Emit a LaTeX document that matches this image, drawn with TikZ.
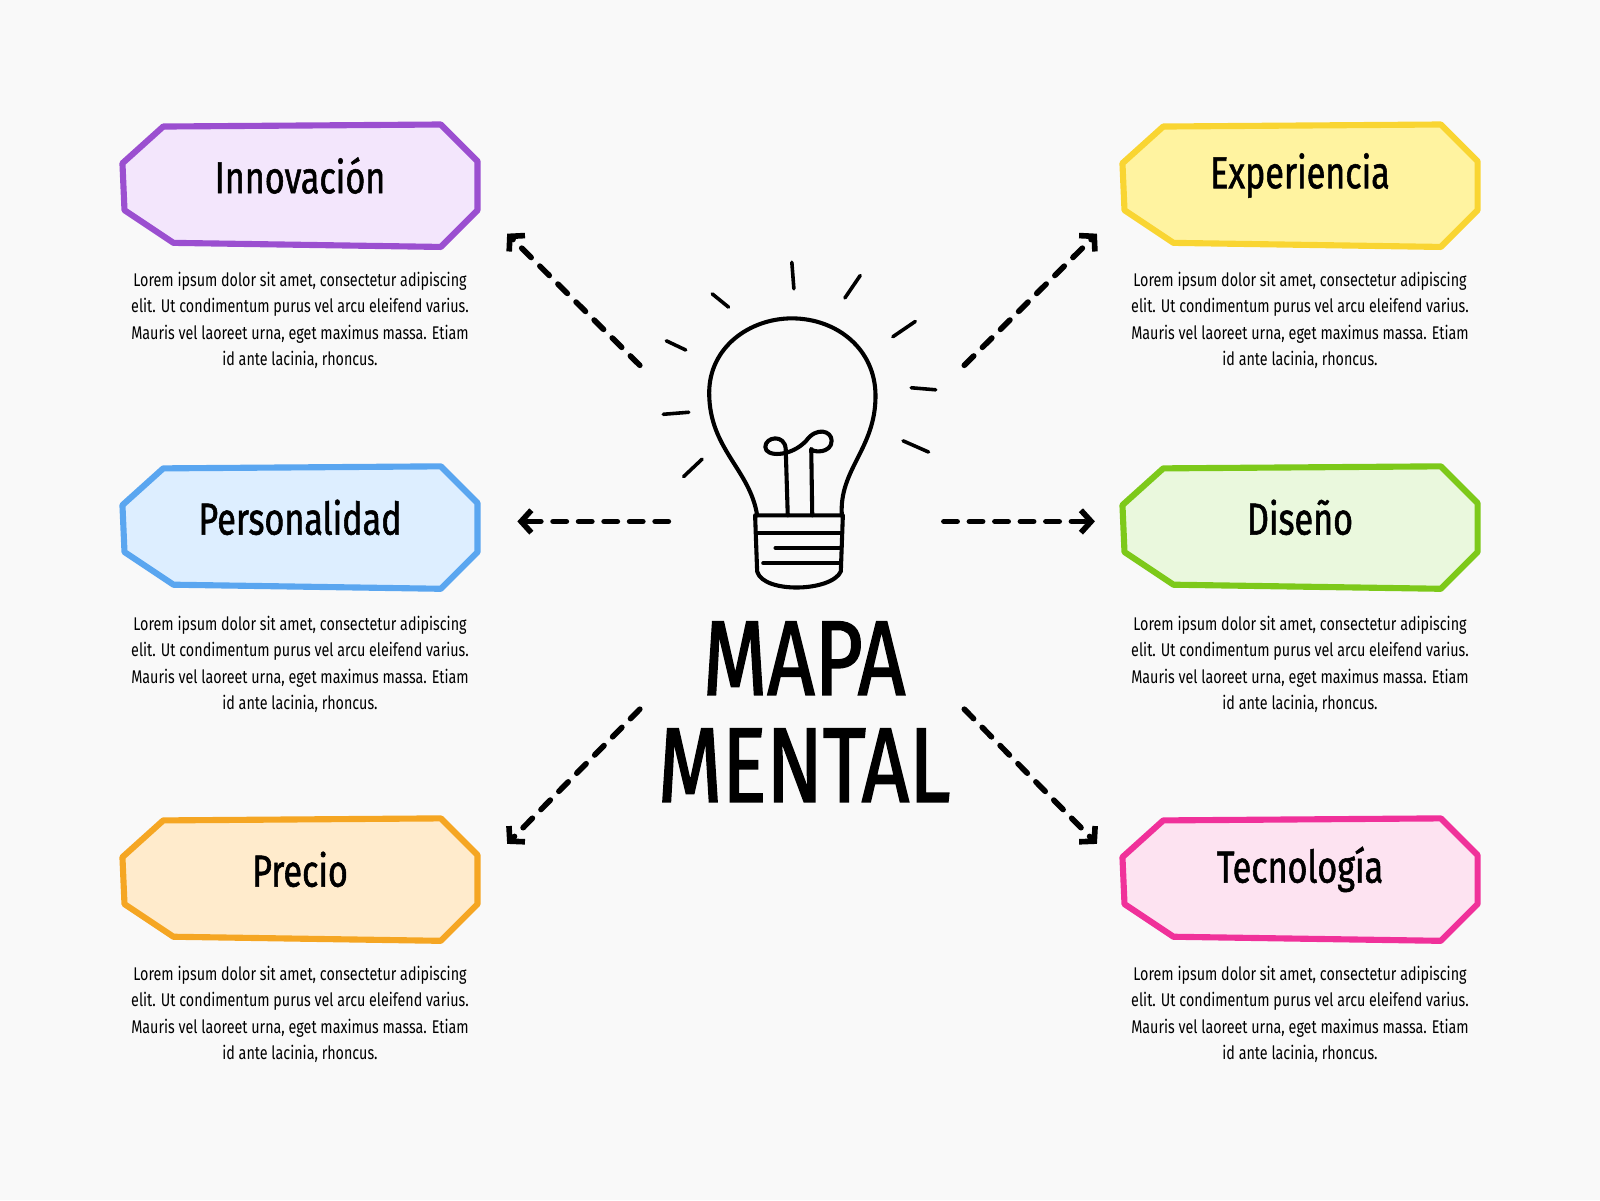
\documentclass[tikz,border=0pt]{standalone}
\usepackage{fontspec}
\setmainfont{Fira Sans}[FakeStretch=0.82]
\usetikzlibrary{arrows.meta}
\definecolor{bg}{HTML}{F9F9F9}
\definecolor{d1}{HTML}{9B4FD0}\definecolor{f1}{HTML}{F3E6FC}
\definecolor{d2}{HTML}{5AA6F0}\definecolor{f2}{HTML}{DDEEFF}
\definecolor{d3}{HTML}{F5A623}\definecolor{f3}{HTML}{FFEBCC}
\definecolor{d4}{HTML}{F9D532}\definecolor{f4}{HTML}{FFF3A0}
\definecolor{d5}{HTML}{7DC91A}\definecolor{f5}{HTML}{EAF8DD}
\definecolor{d6}{HTML}{F0319A}\definecolor{f6}{HTML}{FDE3F1}
\begin{document}
\begin{tikzpicture}[x=1pt,y=-1pt,
 box/.style={line width=6pt,line join=round},
 lab/.style={font=\fontsize{44}{46}\selectfont\addfontfeature{FakeStretch=0.76,FakeBold=1.2},anchor=center},
 body/.style={font=\fontsize{18}{26}\selectfont\addfontfeature{FakeStretch=0.78},align=center,anchor=north},
 big/.style={font=\fontsize{104}{104}\selectfont\addfontfeature{FakeStretch=0.78,FakeBold=1.5},anchor=center},
 arr/.style={line width=5.5pt,dash pattern=on 13pt off 12pt,line cap=round,-{Straight Barb[length=10pt,width=22pt,line width=5.5pt]}},
 ray/.style={line width=3.5pt,line cap=round},
 bulb/.style={line width=4pt,line cap=round,line join=round}]
\fill[bg] (0,0) rectangle (1568,1176);
\useasboundingbox (0,0) rectangle (1568,1176);
\def\hexbox#1#2#3#4#5#6{%
 \filldraw[box,draw=#3,fill=#4] (#1+40,#2+2) -- (#1+312,#2) -- (#1+348,#2+36) -- (#1+348,#2+84) -- (#1+312,#2+120) -- (#1+50,#2+116) -- (#1+2,#2+84) -- (#1,#2+38) -- cycle;
 \node[lab] (#5) at (#1+174,#2+50) {#6};}
\def\bodytext#1#2#3{\node[body] (#3) at (#1,#2) {Lorem ipsum dolor sit amet, consectetur adipiscing\\ elit. Ut condimentum purus vel arcu eleifend varius.\\ Mauris vel laoreet urna, eget maximus massa. Etiam\\ id ante lacinia, rhoncus.};}
\hexbox{120}{122}{d1}{f1}{inn}{Innovación}
\hexbox{120}{457}{d2}{f2}{per}{Personalidad}
\hexbox{120}{802}{d3}{f3}{pre}{Precio}
\hexbox{1100}{122}{d4}{f4}{exp}{Experiencia}
\hexbox{1100}{457}{d5}{f5}{dis}{Diseño}
\hexbox{1100}{802}{d6}{f6}{tec}{Tecnología}
\bodytext{294}{263}{b1}\bodytext{294}{600}{b2}\bodytext{294}{943}{b3}
\bodytext{1274}{263}{b4}\bodytext{1274}{600}{b5}\bodytext{1274}{943}{b6}
\node[big] (t1a) at (788,645) {MAPA};
\node[big] (t1b) at (788,750) {MENTAL};
% bulb
\draw[bulb] (742,505) .. controls (735,460) and (695,440) .. (695,385) .. controls (695,340) and (735,312) .. (776,312) .. controls (820,312) and (858,342) .. (858,388) .. controls (858,440) and (822,460) .. (825,505);
\draw[bulb] (772,505) -- (770,440) .. controls (769,425) and (750,428) .. (750,438) .. controls (750,448) and (775,448) .. (790,432) .. controls (800,418) and (815,422) .. (815,432) .. controls (815,444) and (797,444) .. (795,440) -- (796,505);
\draw[bulb] (740,505) -- (826,505) -- (824,560) .. controls (815,580) and (748,582) .. (742,560) -- cycle;
\draw[bulb] (742,522) -- (824,522); \draw[bulb] (760,537) -- (824,537); \draw[bulb] (748,552) -- (822,552);
\foreach \a/\b/\c/\d in {776/257/778/283,698/288/714/301,828/292/843/270,653/334/672/343,875/330/897/315,650/406/675/404,893/380/917/382,670/467/688/450,885/432/910/443}
 \draw[ray] (\a,\b) -- (\c,\d);
\coordinate (c1) at (627,358); \coordinate (c2) at (945,358); \coordinate (c3) at (655,511);
\coordinate (c4) at (925,511); \coordinate (c5) at (627,695); \coordinate (c6) at (945,695);
\coordinate (t1) at (497,229); \coordinate (t2) at (1075,229); \coordinate (t3) at (507,511);
\coordinate (t4) at (1073,511); \coordinate (t5) at (497,827); \coordinate (t6) at (1075,827);
\foreach \i in {1,...,6} \draw[arr] (c\i) -- (t\i);
\end{tikzpicture}
\end{document}
